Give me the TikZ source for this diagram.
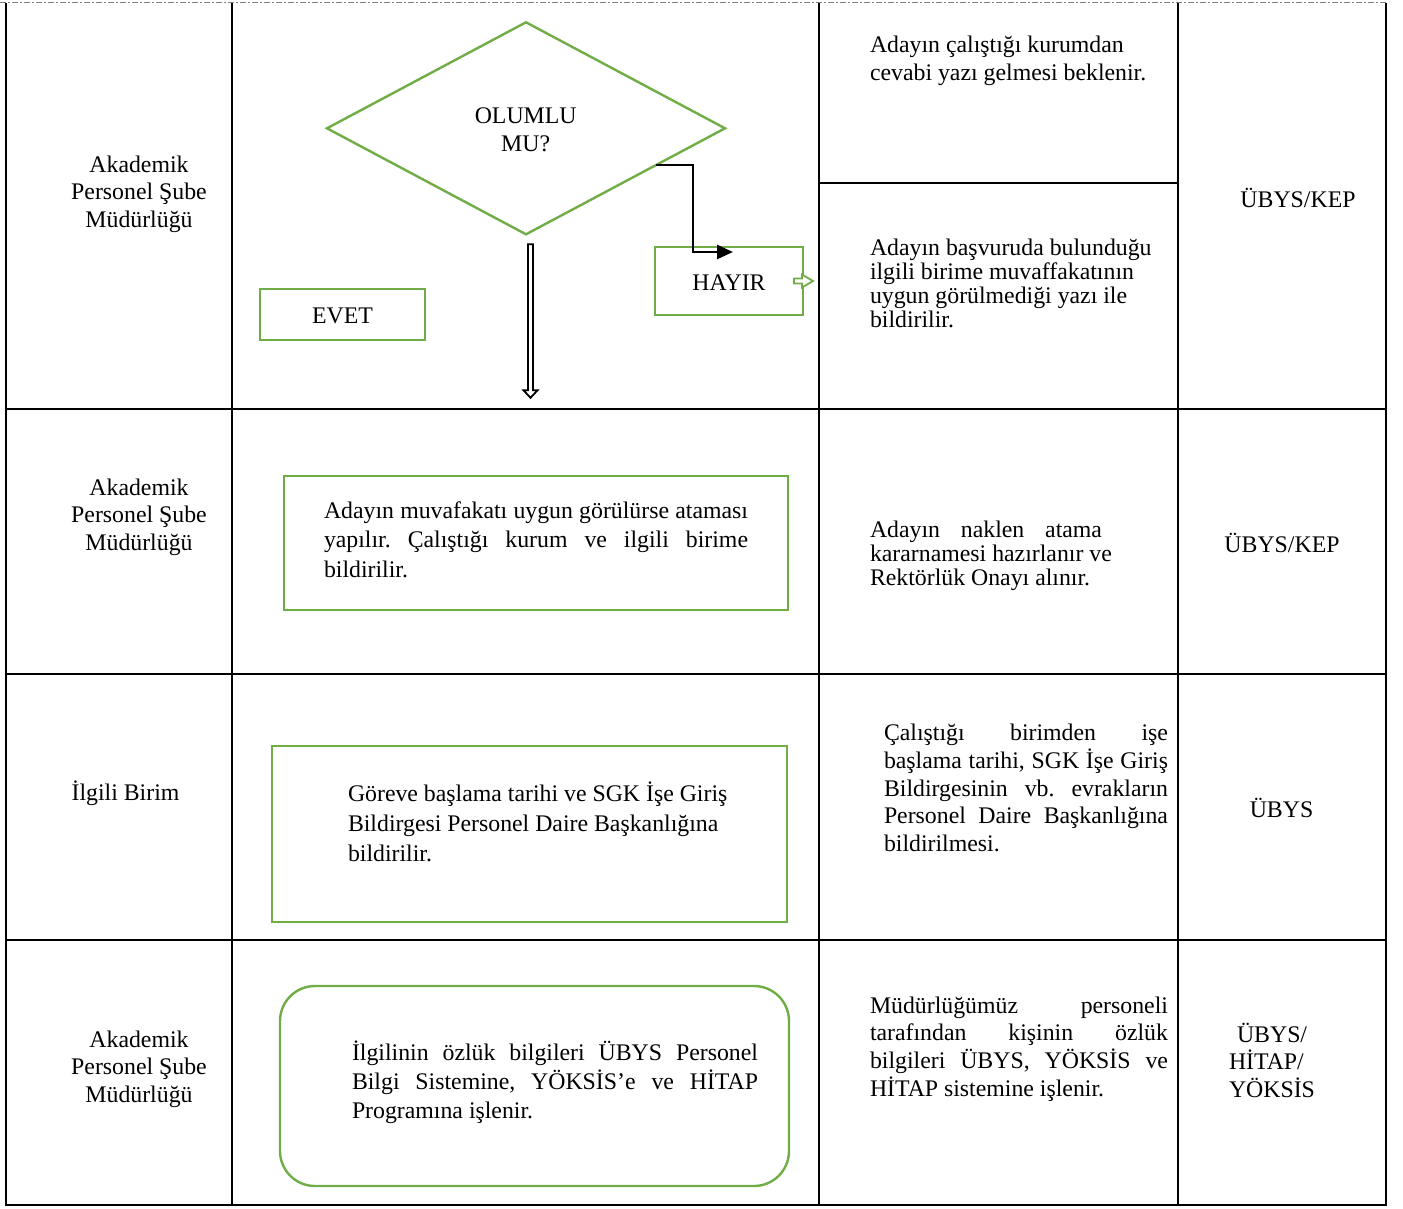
\documentclass[tikz,border=0pt]{standalone}
\usepackage{fontspec}
\setmainfont{Liberation Serif}
\usetikzlibrary{shapes.geometric,arrows.meta,calc}
\definecolor{grn}{HTML}{70AD47}
\frenchspacing
\newcommand{\jline}[2]{\makebox[#1][s]{#2}}
\newcommand{\blk}[3]{\parbox[t]{#2}{\frenchspacing\fontsize{23.8pt}{#1}\selectfont #3}}
\newcommand{\cblk}[3]{\parbox[t]{#2}{\centering\fontsize{23.8pt}{#1}\selectfont #3}}
\begin{document}
\begin{tikzpicture}[x=1pt,y=-1pt,
  grid/.style={line width=2.6pt, black},
  gbox/.style={draw=grn, line width=2.4pt, inner sep=0pt, outer sep=0pt},
  txt/.style={inner sep=0pt, outer sep=0pt, font=\fontsize{23.8pt}{27.7pt}\selectfont, anchor=base west},
  ctxt/.style={txt, anchor=base},
  flowarrow/.style={line width=2.8pt, -{Triangle[length=16pt,width=14pt]}},
]
\useasboundingbox (0,0) rectangle (1403,1208);

% ---------- table grid ----------
\draw[gray, line width=0.8pt, dash pattern=on 6pt off 2pt on 2pt off 2pt] (0,2.5) -- (1386,2.5);
\draw[grid] (6,3) -- (6,1205) -- (1386,1205) -- (1386,3);
\foreach \cx in {232,819,1178} \draw[grid] (\cx,3) -- (\cx,1205);
\foreach \ry in {409,674,940} \draw[grid] (6,\ry) -- (1386,\ry);
\draw[grid] (819,183) -- (1178,183);

% ---------- column 1 ----------
\node[ctxt] (u1) at (139,172) {\cblk{27.5pt}{220pt}{Akademik\\Personel Şube\\Müdürlüğü}};
\node[ctxt] (u2) at (139,495) {\cblk{27.5pt}{220pt}{Akademik\\Personel Şube\\Müdürlüğü}};
\node[ctxt] (u3) at (125.5,800) {İlgili Birim};
\node[ctxt] (u4) at (139,1047) {\cblk{27.5pt}{220pt}{Akademik\\Personel Şube\\Müdürlüğü}};

% ---------- row 1 flow ----------
\node[diamond, gbox, minimum width=398pt, minimum height=212pt] (dec) at (526,128.3) {};
\node[ctxt] (dect) at (525.7,123.3) {\cblk{27.7pt}{150pt}{OLUMLU\\MU?}};
\node[gbox, minimum width=148pt, minimum height=68pt] (hayir) at (729,281) {};
\node[ctxt] (hayirt) at (729,290) {HAYIR};
\node[gbox, minimum width=165pt, minimum height=51pt] (evet) at (342.5,314.5) {};
\node[ctxt] (evett) at (342.5,323) {EVET};

\coordinate (nostart) at ($(dec.east)!0.347!(dec.south)$);
\coordinate (noend) at ($(hayir.north west)+(78,5)$);
\draw[flowarrow] (nostart) -- ++(37,0) |- (noend);

% hollow double-line down arrow
\draw[line width=1.8pt, fill=white, line join=miter]
  ($(dec.south)+(2,10)$) -- ++(5,0) -- ++(0,146) -- ++(4.5,0) -- ++(-7,7.5) -- ++(-7,-7.5) -- ++(4.5,0) -- cycle;

% small green block arrow
\draw[draw=grn, line width=1.8pt, fill=white, line join=miter]
  ($(hayir.east)+(-9,-2.5)$) -- ++(8,0) -- ++(0,-4) -- ++(11,6.5) -- ++(-11,6.5) -- ++(0,-4) -- ++(-8,0) -- cycle;

% ---------- other boxes ----------
\node[gbox, minimum width=504pt, minimum height=134pt] (b2) at (536,543) {};
\node[txt] (b2t) at (324,518) {\blk{29.5pt}{430pt}{\jline{424pt}{Adayın muvafakatı uygun görülürse ataması}\\\jline{424pt}{yapılır. Çalıştığı kurum ve ilgili birime}\\bildirilir.}};

\node[gbox, minimum width=515pt, minimum height=176pt] (b3) at (529.5,834) {};
\node[txt] (b3t) at (348,801) {\blk{30pt}{420pt}{Göreve başlama tarihi ve SGK İşe Giriş\\Bildirgesi Personel Daire Başkanlığına\\bildirilir.}};

\node[gbox, rounded corners=35pt, minimum width=509pt, minimum height=200pt] (b4) at (534.5,1086) {};
\node[txt] (b4t) at (352,1060) {\blk{29pt}{410pt}{\jline{406pt}{İlgilinin özlük bilgileri ÜBYS Personel}\\\jline{406pt}{Bilgi Sistemine, YÖKSİS’e ve HİTAP}\\Programına işlenir.}};

% ---------- column 3 ----------
\node[txt] (c1a) at (870,52) {\blk{28.5pt}{300pt}{Adayın çalıştığı kurumdan\\cevabi yazı gelmesi beklenir.}};
\node[txt] (c1b) at (870,255) {\blk{24pt}{300pt}{Adayın başvuruda bulunduğu\\ilgili birime muvaffakatının\\uygun görülmediği yazı ile\\bildirilir.}};
\node[txt] (c2) at (870,537) {\blk{24pt}{300pt}{\jline{232pt}{Adayın naklen atama}\\kararnamesi hazırlanır ve\\Rektörlük Onayı alınır.}};
\node[txt] (c3) at (884,740.5) {\blk{27.8pt}{290pt}{\jline{284pt}{Çalıştığı birimden işe}\\\jline{284pt}{başlama tarihi, SGK İşe Giriş}\\\jline{284pt}{Bildirgesinin vb. evrakların}\\\jline{284pt}{Personel Daire Başkanlığına}\\bildirilmesi.}};
\node[txt] (c4) at (870,1013) {\blk{27.7pt}{300pt}{\jline{298pt}{Müdürlüğümüz personeli}\\\jline{298pt}{tarafından kişinin özlük}\\\jline{298pt}{bilgileri ÜBYS, YÖKSİS ve}\\HİTAP sistemine işlenir.}};

% ---------- column 4 ----------
\node[ctxt] (d1) at (1298,207) {ÜBYS/KEP};
\node[ctxt] (d2) at (1282,552) {ÜBYS/KEP};
\node[ctxt] (d3) at (1281.5,817) {ÜBYS};
\node[txt] (d4) at (1229,1042) {\blk{27.5pt}{150pt}{\hspace*{8pt}ÜBYS/\\HİTAP/\\YÖKSİS}};
\end{tikzpicture}
\end{document}
